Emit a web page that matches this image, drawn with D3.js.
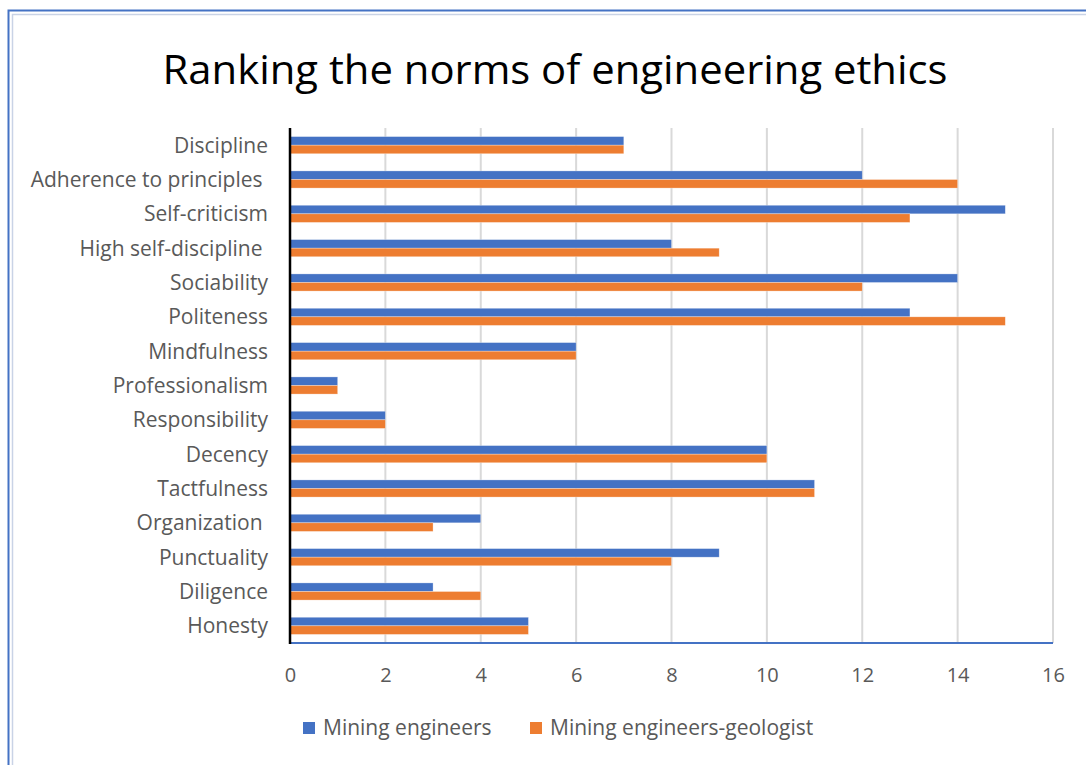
<!DOCTYPE html>
<html><head><meta charset="utf-8">
<script src="https://cdn.jsdelivr.net/npm/d3@7"></script>
<style>
html,body{margin:0;padding:0;background:#fff;}
svg text{white-space:pre;}
</style></head>
<body>
<svg id="chart" width="1086" height="765"></svg>
<script>
const categories = ["Discipline","Adherence to principles ","Self-criticism","High self-discipline ","Sociability","Politeness","Mindfulness","Professionalism","Responsibility","Decency","Tactfulness","Organization ","Punctuality","Diligence","Honesty"];
const miningEngineers = [7,12,15,8,14,13,6,1,2,10,11,4,9,3,5];
const miningGeologist = [7,14,13,9,12,15,6,1,2,10,11,3,8,4,5];
const seriesNames = ["Mining engineers","Mining engineers-geologist"];
const seriesColors = ["#4472C4","#ED7D31"];
const xTicks = [0,2,4,6,8,10,12,14,16];
const title = "Ranking the norms of engineering ethics";

const svg = d3.select("#chart");
const font = "'Open Sans', 'Noto Sans', sans-serif";

// frame borders
svg.append("rect").attr("x",8.5).attr("y",10.5).attr("width",1100).attr("height",800)
  .attr("fill","none").attr("stroke","#4472C4").attr("stroke-width",2);
svg.append("rect").attr("x",12.5).attr("y",14.5).attr("width",1100).attr("height",800)
  .attr("fill","none").attr("stroke","#c9d3e6").attr("stroke-width",1.5);

const pLeft = 290, pRight = 1053, pTop = 128, pBottom = 643;
const x = d3.scaleLinear().domain([0,16]).range([pLeft,pRight]);
const y = d3.scaleBand().domain(categories).range([pTop,pBottom]).paddingInner(0.5).paddingOuter(0.25);
const ySub = d3.scaleBand().domain([0,1]).range([0,y.bandwidth()]);

// title
svg.append("text").attr("x",555).attr("y",84).attr("text-anchor","middle")
  .attr("font-family",font).attr("font-size",40).attr("fill","#000")
  .attr("textLength",785).attr("lengthAdjust","spacingAndGlyphs").text(title);

// gridlines
svg.append("g").selectAll("line").data(xTicks.slice(1)).join("line")
  .attr("x1",d=>x(d)).attr("x2",d=>x(d)).attr("y1",pTop).attr("y2",pBottom)
  .attr("stroke","#d9d9d9").attr("stroke-width",2);

// bars
const data = categories.map((c,i)=>({c, v:[miningEngineers[i], miningGeologist[i]]}));
const g = svg.append("g");
data.forEach(d=>{
  d.v.forEach((v,s)=>{
    g.append("rect").attr("x",x(0)).attr("y",y(d.c)+ySub(s))
      .attr("width",x(v)-x(0)).attr("height",ySub.bandwidth())
      .attr("fill",seriesColors[s]).attr("stroke","rgba(255,255,255,0.5)").attr("stroke-width",0.6);
  });
});

// bottom axis line (blue)
svg.append("line").attr("x1",pLeft).attr("x2",pRight).attr("y1",pBottom).attr("y2",pBottom)
  .attr("stroke","#4472C4").attr("stroke-width",2);
// left axis line (black)
svg.append("line").attr("x1",pLeft).attr("x2",pLeft).attr("y1",pTop).attr("y2",pBottom+1)
  .attr("stroke","#000").attr("stroke-width",2.5);

// x tick labels
const xAxis = d3.axisBottom(x).tickValues(xTicks).tickSize(0).tickPadding(0);
const xa = svg.append("g").attr("transform",`translate(0,${pBottom+25})`).call(xAxis);
xa.select(".domain").remove();
xa.selectAll("text").attr("font-family",font).attr("font-size",20).attr("fill","#595959").attr("dy","0.71em");

// y labels
const yAxis = d3.axisLeft(y).tickSize(0).tickPadding(0);
const ya = svg.append("g").attr("transform",`translate(${pLeft-22},0)`).call(yAxis);
ya.select(".domain").remove();
ya.selectAll("text").attr("font-family",font).attr("font-size",21).attr("fill","#595959").attr("dy","0.35em");

// legend
const legendX = [303, 530];
seriesNames.forEach((n,i)=>{
  svg.append("rect").attr("x",legendX[i]).attr("y",722).attr("width",12).attr("height",12).attr("fill",seriesColors[i]);
  svg.append("text").attr("x",legendX[i]+20).attr("y",728).attr("dy","0.35em")
    .attr("font-family",font).attr("font-size",21).attr("fill","#595959").text(n);
});
</script>
</body></html>
